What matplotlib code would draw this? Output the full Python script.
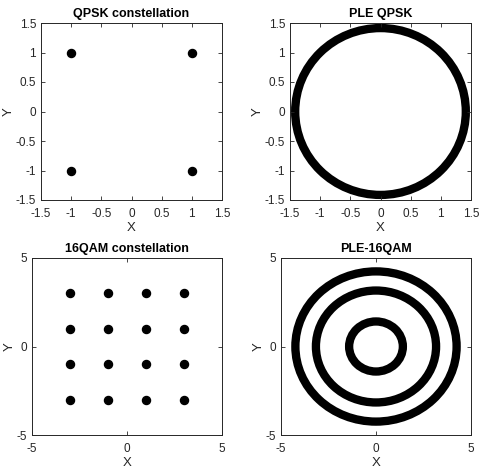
import matplotlib
matplotlib.use("Agg")
import matplotlib.pyplot as plt
from matplotlib.patches import Circle

plt.rcParams['font.family'] = ['Liberation Sans', 'DejaVu Sans']

# Data
qpsk_i = [1, -1, -1, 1]
qpsk_q = [1, 1, -1, -1]
qam16_i = [-3, -1, 1, 3, -3, -1, 1, 3, -3, -1, 1, 3, -3, -1, 1, 3]
qam16_q = [3, 3, 3, 3, 1, 1, 1, 1, -1, -1, -1, -1, -3, -3, -3, -3]
ple_qpsk_radii = [1.414]
ple_16qam_radii = [1.414, 3.162, 4.243]

qpsk_ticks = [-1.5, -1, -0.5, 0, 0.5, 1, 1.5]
qpsk_ticklabels = ['-1.5', '-1', '-0.5', '0', '0.5', '1', '1.5']
qam_ticks = [-5, 0, 5]
qam_ticklabels = ['-5', '0', '5']

W, H = 490, 470
fig = plt.figure(figsize=(W / 100, H / 100), dpi=100)


def make_ax(l, r, t, b):
    return fig.add_axes([l / W, 1 - b / H, (r - l) / W, (b - t) / H])


def style(ax, title, ticks, labels, lim):
    ax.set_xlim(-lim, lim)
    ax.set_ylim(-lim, lim)
    ax.set_xticks(ticks)
    ax.set_xticklabels(labels)
    ax.set_yticks(ticks)
    ax.set_yticklabels(labels)
    ax.tick_params(direction='in', length=3, width=0.6, top=True, right=True,
                   labelsize=8.5, colors='#262626')
    ax.tick_params(axis='x', pad=5.5)
    ax.tick_params(axis='y', pad=3.5)
    for s in ax.spines.values():
        s.set_linewidth(0.7)
        s.set_color('#262626')
    ax.set_title(title, fontsize=9, fontweight='bold', pad=4)
    ax.set_xlabel('X', fontsize=9.5, color='#262626', labelpad=1.5)
    ax.set_ylabel('Y', fontsize=9.5, color='#262626', labelpad=1)


ax1 = make_ax(41, 222, 23, 200)
ax1.plot(qpsk_i, qpsk_q, 'o', color='black', markersize=5.8, linestyle='none')
style(ax1, 'QPSK constellation', qpsk_ticks, qpsk_ticklabels, 1.5)

ax2 = make_ax(290, 471, 23, 200)
for r in ple_qpsk_radii:
    ax2.add_patch(Circle((0, 0), r, fill=False, edgecolor='black', linewidth=6))
style(ax2, 'PLE QPSK', qpsk_ticks, qpsk_ticklabels, 1.5)

ax3 = make_ax(32, 222, 258, 435)
ax3.plot(qam16_i, qam16_q, 'o', color='black', markersize=5.8, linestyle='none')
style(ax3, '16QAM constellation', qam_ticks, qam_ticklabels, 5)

ax4 = make_ax(281, 471, 258, 435)
for r in ple_16qam_radii:
    ax4.add_patch(Circle((0, 0), r, fill=False, edgecolor='black', linewidth=6))
style(ax4, 'PLE-16QAM', qam_ticks, qam_ticklabels, 5)

fig.savefig('out.png', dpi=100)
